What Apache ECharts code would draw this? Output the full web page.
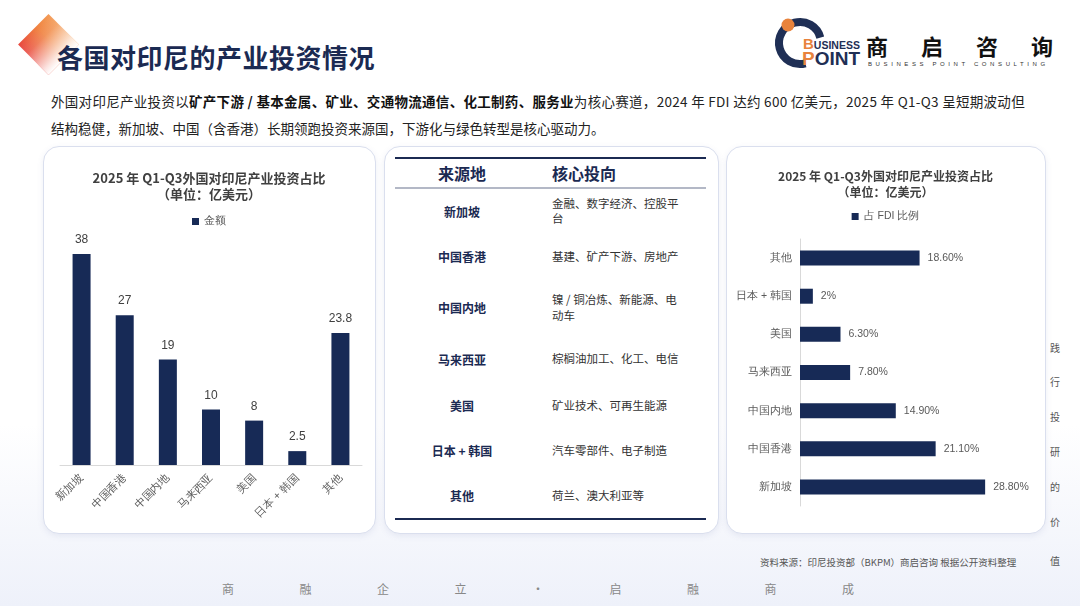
<!DOCTYPE html>
<html><head><meta charset="utf-8">
<script src="https://cdn.jsdelivr.net/npm/echarts@6/dist/echarts.min.js"></script>
<style>
html,body{margin:0;padding:0;width:1080px;height:606px;overflow:hidden;font-family:"Noto Sans CJK SC","Noto Sans",sans-serif;}
body{background:linear-gradient(180deg,#ffffff 0%,#ffffff 70%,#eef1fa 100%);position:relative;}
.abs{position:absolute;}
.panel{position:absolute;background:#fff;border:1px solid #dadfee;border-radius:16px;box-shadow:0 2px 6px rgba(90,100,160,0.10);box-sizing:border-box;}
#title{left:57px;top:38px;font-size:26px;font-weight:700;color:#1b2a52;letter-spacing:0.5px;white-space:nowrap;}
.intro{left:51px;font-size:13.5px;color:#222;white-space:nowrap;}
.intro b{font-weight:700;color:#111;}
table{border-collapse:collapse;}
#tbl{position:absolute;left:395px;top:157px;width:311px;}
#tbl th{font-size:16px;font-weight:700;color:#1b2a52;height:28px;padding:0;}
#tbl td{padding:0;vertical-align:middle;}
#tbl td.c1{text-align:center;font-size:12px;font-weight:700;color:#1b2a52;width:134px;}
#tbl td.c2{font-size:11.5px;color:#333;line-height:15.5px;padding-left:23px;}
.c2 div{width:129px;}
.slogan{top:580px;font-size:12px;color:#888;}
.vt{left:1050px;font-size:10px;color:#555;}
</style></head>
<body>
<!-- diamond decoration -->
<div class="abs" style="left:27px;top:23px;width:43px;height:43px;transform:rotate(45deg);background:linear-gradient(to right,rgba(255,255,255,0) 0%,rgba(255,255,255,0.15) 30%,rgba(255,255,255,0.85) 85%,#fff 100%),linear-gradient(to top,#e8463d 0%,#f0823f 60%,#f39a55 100%);"></div>
<div id="title" class="abs">各国对印尼的产业投资情况</div>

<!-- logo -->
<svg class="abs" style="left:770px;top:10px" width="100" height="65">
  <path d="M 50.3 27.6 A 21 21 0 1 0 35.4 53.3" fill="none" stroke="#1f2f55" stroke-width="8"/>
  <circle cx="18" cy="15" r="6.5" fill="#e8833c"/>
</svg>
<div class="abs" style="left:803px;top:37px;font-family:'Liberation Sans',Arial,sans-serif;font-weight:700;color:#1f2f55;white-space:nowrap;line-height:14px;"><span style="color:#e8833c;font-size:15px">B</span><span style="font-size:10.5px">USINESS</span></div>
<div class="abs" style="left:802px;top:49px;font-family:'Liberation Sans',Arial,sans-serif;font-weight:700;color:#1f2f55;white-space:nowrap;font-size:19px;line-height:20px;"><span style="color:#e8833c">P</span>OINT</div>
<div class="abs" style="left:866px;top:31px;font-size:22px;font-weight:700;color:#111;white-space:nowrap;letter-spacing:33px;line-height:28px;">商启咨询</div>
<div class="abs" style="left:868px;top:61px;font-size:6px;color:#333;white-space:nowrap;letter-spacing:3.6px;font-family:'Liberation Sans',sans-serif;">BUSINESS POINT CONSULTING</div>

<div class="abs intro" style="top:91px;letter-spacing:0.3px;">外国对印尼产业投资以<b>矿产下游 / 基本金属、矿业、交通物流通信、化工制药、服务业</b>为核心赛道，2024 年 FDI 达约 600 亿美元，2025 年 Q1-Q3 呈短期波动但</div>
<div class="abs intro" style="top:118px;">结构稳健，新加坡、中国（含香港）长期领跑投资来源国，下游化与绿色转型是核心驱动力。</div>

<div class="panel" style="left:43px;top:146px;width:333px;height:388px;"></div>
<div class="panel" style="left:384px;top:146px;width:335px;height:388px;"></div>
<div class="panel" style="left:726px;top:146px;width:320px;height:388px;"></div>

<div id="c1" class="abs" style="left:43px;top:146px;width:332px;height:387px;"></div>
<div id="c3" class="abs" style="left:726px;top:146px;width:319px;height:387px;"></div>

<table id="tbl"><thead><tr><th style="border-top:2.5px solid #1b2a52;border-bottom:2.5px solid #b3b8c6;">来源地</th><th style="text-align:left;padding-left:23px;border-top:2.5px solid #1b2a52;border-bottom:2.5px solid #b3b8c6;">核心投向</th></tr></thead><tbody id="tb"></tbody></table>

<div class="abs" style="left:760px;top:555px;font-size:9.5px;color:#555;white-space:nowrap;">资料来源：印尼投资部（BKPM）商启咨询 根据公开资料整理</div>
<div id="slogan"></div>
<div id="vtext"></div>

<script>
// ---- data ----
const categories = ['新加坡','中国香港','中国内地','马来西亚','美国','日本 + 韩国','其他'];
const amounts = [38, 27, 19, 10, 8, 2.5, 23.8];
const shares = [28.8, 21.1, 14.9, 7.8, 6.3, 2, 18.6];
const shareLabels = ['28.80%','21.10%','14.90%','7.80%','6.30%','2%','18.60%'];
const directions = ['金融、数字经济、控股平台','基建、矿产下游、房地产','镍 / 铜冶炼、新能源、电动车','棕榈油加工、化工、电信','矿业技术、可再生能源','汽车零部件、电子制造','荷兰、澳大利亚等'];
const chartTitle = '2025 年 Q1-Q3外国对印尼产业投资占比\n（单位：亿美元）';
const legend1 = '金额';
const legend3 = '占 FDI 比例';
const sloganChars = ['商','融','企','立','•','启','融','商','成'];
const verticalChars = ['践','行','投','研','的','价','值'];

// ---- table ----
const rowHeights = [45, 47, 55, 48, 45, 45, 46];
const tb = document.getElementById('tb');
categories.forEach((c, i) => {
  const tr = document.createElement('tr');
  tr.style.height = rowHeights[i] + 'px';
  if (i === categories.length - 1) tr.style.borderBottom = '2.5px solid #1b2a52';
  tr.innerHTML = '<td class="c1">' + c + '</td><td class="c2"><div>' + directions[i] + '</div></td>';
  tb.appendChild(tr);
});
// slogan
const sl = document.getElementById('slogan');
sloganChars.forEach((ch, i) => {
  const d = document.createElement('div');
  d.className = 'abs slogan';
  d.style.left = (222 + i * 77.5) + 'px';
  d.textContent = ch;
  sl.appendChild(d);
});
const vt = document.getElementById('vtext');
const vy = [340, 374, 409, 444, 479, 514, 553];
verticalChars.forEach((ch, i) => {
  const d = document.createElement('div');
  d.className = 'abs vt';
  d.style.top = vy[i] + 'px';
  d.textContent = ch;
  vt.appendChild(d);
});

const navy = '#172a56';
// ---- chart 1 ----
const c1 = echarts.init(document.getElementById('c1'));
c1.setOption({
  animation: false,
  title: { text: chartTitle, left: 'center', top: 19, textStyle: { fontSize: 13, fontWeight: 'bold', color: '#404040', lineHeight: 16, fontFamily: 'Noto Sans CJK SC' } },
  legend: { data: [legend1], top: 65, left: 'center', itemWidth: 7, itemHeight: 7, icon: 'rect', textStyle: { fontSize: 10.5, color: '#595959' } },
  grid: { left: 17, right: 13, top: 97, bottom: 68 },
  xAxis: { type: 'category', data: categories, axisTick: { show: false }, axisLine: { lineStyle: { color: '#d9d9d9' } },
    axisLabel: { rotate: 45, fontSize: 11, color: '#595959', interval: 0, margin: 11 } },
  yAxis: { type: 'value', min: 0, max: 40, show: false },
  series: [{ name: legend1, type: 'bar', data: amounts, barWidth: 18, itemStyle: { color: navy },
    label: { show: true, position: 'top', distance: 8, fontSize: 12, color: '#404040' } }]
});

// ---- chart 3 ----
const c3 = echarts.init(document.getElementById('c3'));
c3.setOption({
  animation: false,
  title: { text: chartTitle, left: 'center', top: 17, textStyle: { fontSize: 12, fontWeight: 'bold', color: '#404040', lineHeight: 16, fontFamily: 'Noto Sans CJK SC' } },
  legend: { data: [legend3], top: 60, left: 'center', itemWidth: 7, itemHeight: 7, icon: 'rect', textStyle: { fontSize: 10.5, color: '#595959' } },
  grid: { left: 74, right: 20, top: 93, bottom: 27 },
  xAxis: { type: 'value', min: 0, max: 35, show: false },
  yAxis: { type: 'category', data: categories, axisTick: { show: false }, axisLine: { lineStyle: { color: '#d9d9d9' } },
    axisLabel: { fontSize: 10.5, color: '#595959', margin: 8 } },
  series: [{ name: legend3, type: 'bar', data: shares, barWidth: 15, itemStyle: { color: navy },
    label: { show: true, position: 'right', distance: 8, fontSize: 10.5, color: '#595959', formatter: p => shareLabels[p.dataIndex] } }]
});
</script>
</body></html>
